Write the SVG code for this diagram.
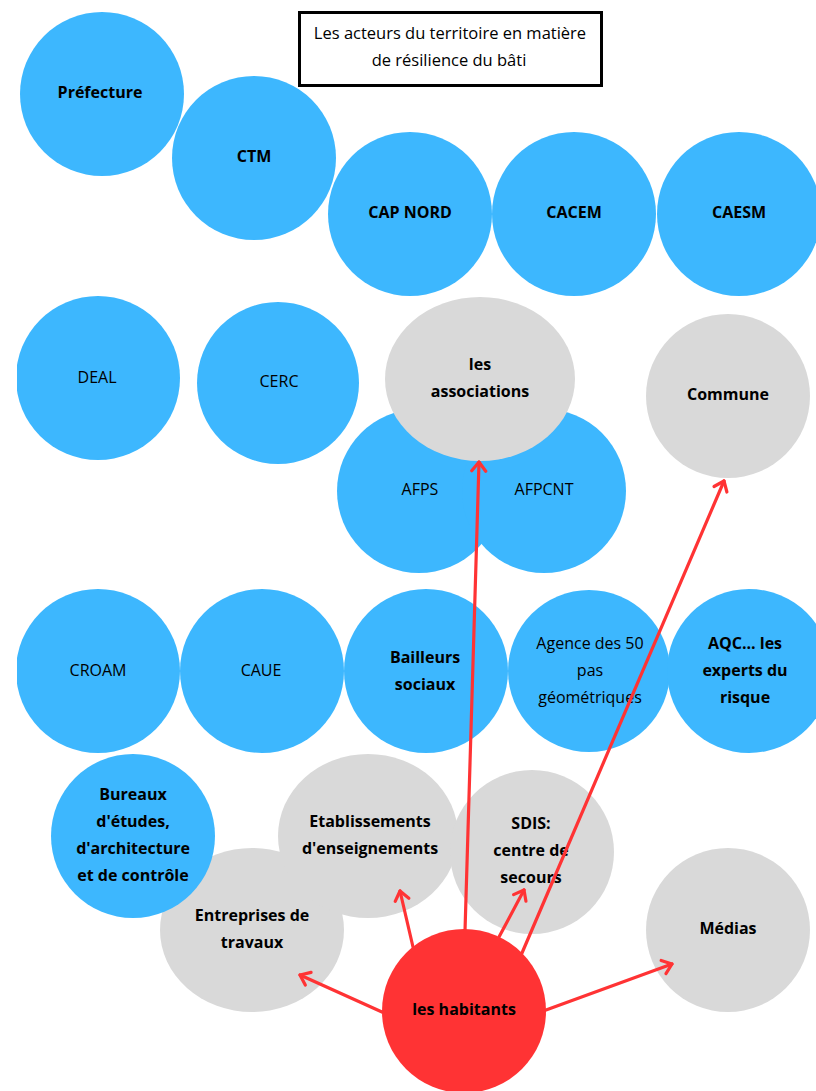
<svg xmlns="http://www.w3.org/2000/svg" width="816" height="1091" viewBox="0 0 816 1091">
<style>
.blue{fill:#3DB7FE}
.gray{fill:#D9D9D9}
.red{fill:#FF3334}
text{font-family:"Open Sans","Liberation Sans",sans-serif;font-size:16px;fill:#000;text-anchor:middle}
.b{font-weight:bold}
.title{font-size:16.5px}
.conn{stroke:#FF3334;stroke-width:3.2;fill:none;stroke-linecap:round;marker-end:url(#arr)}
</style>
<defs>
<clipPath id="clipL"><rect x="17" y="0" width="799" height="1091"/></clipPath>
<marker id="arr" markerUnits="userSpaceOnUse" viewBox="-12 -10 14 20" refX="0" refY="0" markerWidth="14" markerHeight="20" orient="auto">
<path d="M-9,-7 L0,0 L-9,7" fill="none" stroke="#FF3334" stroke-width="3.2" stroke-linecap="round" stroke-linejoin="round"/>
</marker>
</defs>
<rect width="816" height="1091" fill="#fff"/>

<g id="title">
<rect x="299.5" y="12.5" width="302" height="73" fill="#fff" stroke="#000" stroke-width="3"/>
<text class="title" x="450" y="39">Les acteurs du territoire en matière</text>
<text class="title" x="449" y="66">de résilience du bâti</text>
</g>

<g id="prefecture"><circle class="blue" cx="102" cy="94" r="82"/><text class="b" x="100" y="98">Préfecture</text></g>
<g id="ctm"><circle class="blue" cx="254" cy="158" r="82"/><text class="b" x="254" y="162">CTM</text></g>
<g id="capnord"><circle class="blue" cx="410" cy="214" r="82"/><text class="b" x="410" y="218">CAP NORD</text></g>
<g id="cacem"><circle class="blue" cx="574" cy="214" r="82"/><text class="b" x="574" y="218">CACEM</text></g>
<g id="caesm"><circle class="blue" cx="739" cy="214" r="82"/><text class="b" x="739" y="218">CAESM</text></g>

<g id="deal"><circle class="blue" cx="98" cy="378" r="82" clip-path="url(#clipL)"/><text x="97" y="383">DEAL</text></g>
<g id="cerc"><circle class="blue" cx="278" cy="383" r="81"/><text x="279" y="387">CERC</text></g>
<g id="afps"><circle class="blue" cx="419" cy="491" r="82"/><text x="420" y="495">AFPS</text></g>
<g id="afpcnt"><circle class="blue" cx="544" cy="491" r="82"/><text x="544" y="495">AFPCNT</text></g>
<g id="associations"><ellipse class="gray" cx="480" cy="379" rx="95" ry="82"/><text class="b" x="480" y="370">les</text><text class="b" x="480" y="397">associations</text></g>
<g id="commune"><circle class="gray" cx="728" cy="396" r="82"/><text class="b" x="728" y="400">Commune</text></g>

<g id="croam"><circle class="blue" cx="98" cy="671" r="82" clip-path="url(#clipL)"/><text x="98" y="676">CROAM</text></g>
<g id="caue"><circle class="blue" cx="262" cy="671" r="82"/><text x="261" y="676">CAUE</text></g>
<g id="bailleurs"><circle class="blue" cx="426" cy="671" r="82"/><text class="b" x="425" y="663">Bailleurs</text><text class="b" x="425" y="690">sociaux</text></g>
<g id="agence"><circle class="blue" cx="589" cy="671" r="81"/><text x="590" y="649">Agence des 50</text><text x="590" y="676">pas</text><text x="590" y="703">géométriques</text></g>
<g id="aqc"><circle class="blue" cx="749" cy="671" r="82"/><text class="b" x="745" y="649">AQC... les</text><text class="b" x="745" y="676">experts du</text><text class="b" x="745" y="703">risque</text></g>

<g id="entreprises"><ellipse class="gray" cx="252" cy="930" rx="92" ry="82"/><text class="b" x="252" y="921">Entreprises de</text><text class="b" x="252" y="948">travaux</text></g>
<g id="bureaux"><circle class="blue" cx="133" cy="836" r="82"/><text class="b" x="133" y="800">Bureaux</text><text class="b" x="133" y="827">d'études,</text><text class="b" x="133" y="854">d'architecture</text><text class="b" x="133" y="881">et de contrôle</text></g>
<g id="etablissements"><ellipse class="gray" cx="368" cy="836" rx="90" ry="82"/><text class="b" x="370" y="827">Etablissements</text><text class="b" x="370" y="854">d'enseignements</text></g>
<g id="sdis"><circle class="gray" cx="532" cy="852" r="82"/><text class="b" x="531" y="829">SDIS:</text><text class="b" x="531" y="856">centre de</text><text class="b" x="531" y="883">secours</text></g>
<g id="medias"><circle class="gray" cx="728" cy="930" r="82"/><text class="b" x="728" y="934">Médias</text></g>

<g id="connectors">
<line class="conn" x1="465" y1="931" x2="479" y2="462"/>
<line class="conn" x1="522" y1="953" x2="724" y2="481"/>
<line class="conn" x1="413" y1="947" x2="400" y2="891"/>
<line class="conn" x1="499" y1="937" x2="524" y2="890"/>
<line class="conn" x1="382" y1="1012" x2="300" y2="975"/>
<line class="conn" x1="546" y1="1010" x2="672" y2="964"/>
</g>

<g id="habitants"><circle class="red" cx="464" cy="1011" r="82"/><text class="b" x="464" y="1015">les habitants</text></g>
</svg>
